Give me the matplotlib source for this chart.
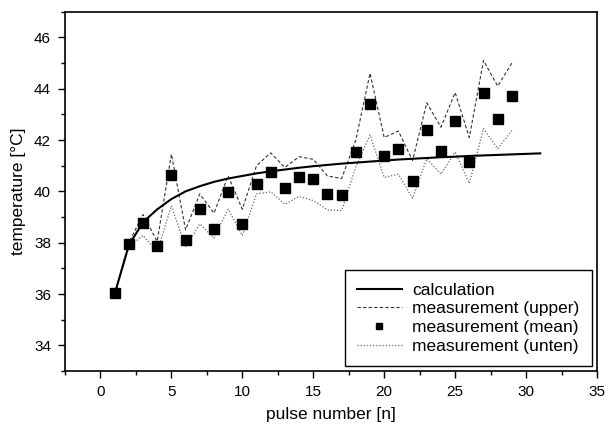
import matplotlib
matplotlib.use("Agg")
import matplotlib.pyplot as plt
from matplotlib.ticker import MultipleLocator

plt.rcParams['font.family'] = ['Liberation Sans', 'DejaVu Sans']

pulse_calc = list(range(1, 32))
calc = [36.0, 37.9, 38.8, 39.3, 39.7, 40.0, 40.2, 40.37, 40.5, 40.6,
        40.7, 40.78, 40.85, 40.92, 40.98, 41.03, 41.08, 41.12, 41.16, 41.2,
        41.24, 41.27, 41.3, 41.33, 41.35, 41.38, 41.4, 41.42, 41.44, 41.46, 41.48]

pulse = list(range(1, 30))
upper = [36.0, 38.0, 39.1, 38.05, 41.45, 38.5, 39.9, 39.15, 40.6, 39.3,
         41.0, 41.5, 40.93, 41.35, 41.25, 40.6, 40.5, 42.0, 44.6, 42.1,
         42.35, 41.2, 43.45, 42.5, 43.85, 42.1, 45.1, 44.1, 45.0]
mean = [36.05, 37.93, 38.78, 37.88, 40.62, 38.12, 39.3, 38.55, 39.98, 38.73,
        40.3, 40.75, 40.13, 40.57, 40.48, 39.9, 39.84, 41.53, 43.4, 41.37,
        41.65, 40.42, 42.38, 41.57, 42.73, 41.13, 43.82, 42.82, 43.7]
lower = [36.0, 37.84, 38.28, 37.64, 39.44, 37.83, 38.73, 38.18, 39.31, 38.28,
         39.9, 39.98, 39.5, 39.8, 39.64, 39.28, 39.25, 40.95, 42.2, 40.54,
         40.67, 39.73, 41.27, 40.67, 41.53, 40.31, 42.45, 41.66, 42.37]

xticks = [0, 5, 10, 15, 20, 25, 30, 35]
yticks = [34, 36, 38, 40, 42, 44, 46]

fig = plt.figure(figsize=(6.08, 4.26), dpi=100)
ax = fig.add_axes([65/608, 1 - 371/426, (597-65)/608, (371-11.7)/426])

ax.plot(pulse_calc, calc, color='black', lw=1.5, label='calculation', zorder=3)
ax.plot(pulse, upper, color='#333333', lw=0.8, ls=(0, (3, 2)), label='measurement (upper)', zorder=2)
ax.plot(pulse, mean, ls='none', marker='s', ms=6.5, color='black', label='measurement (mean)', zorder=4)
ax.plot(pulse, lower, color='#666666', lw=0.9, ls=(0, (1, 1.5)), label='measurement (unten)', zorder=2)

ax.set_xlim(-2.5, 35)
ax.set_ylim(33, 47)
ax.set_xticks(xticks)
ax.set_yticks(yticks)
ax.xaxis.set_minor_locator(MultipleLocator(2.5))
ax.yaxis.set_minor_locator(MultipleLocator(1))
ax.tick_params(which='major', direction='out', length=5, width=1, labelsize=11, pad=5)
ax.tick_params(which='minor', direction='out', length=3, width=1)
for s in ax.spines.values():
    s.set_linewidth(1.2)

ax.set_xlabel('pulse number [n]', fontsize=12.5, labelpad=6)
ax.set_ylabel('temperature [°C]', fontsize=12.5, labelpad=6)

leg = ax.legend(loc='lower right', fontsize=12.5,
                frameon=True, fancybox=False, edgecolor='black', framealpha=1,
                handlelength=2.6, borderaxespad=0.3, labelspacing=0.2,
                borderpad=0.7, markerscale=0.7, handletextpad=0.6)
leg.get_frame().set_linewidth(1.0)

fig.savefig('out.png', dpi=100)
